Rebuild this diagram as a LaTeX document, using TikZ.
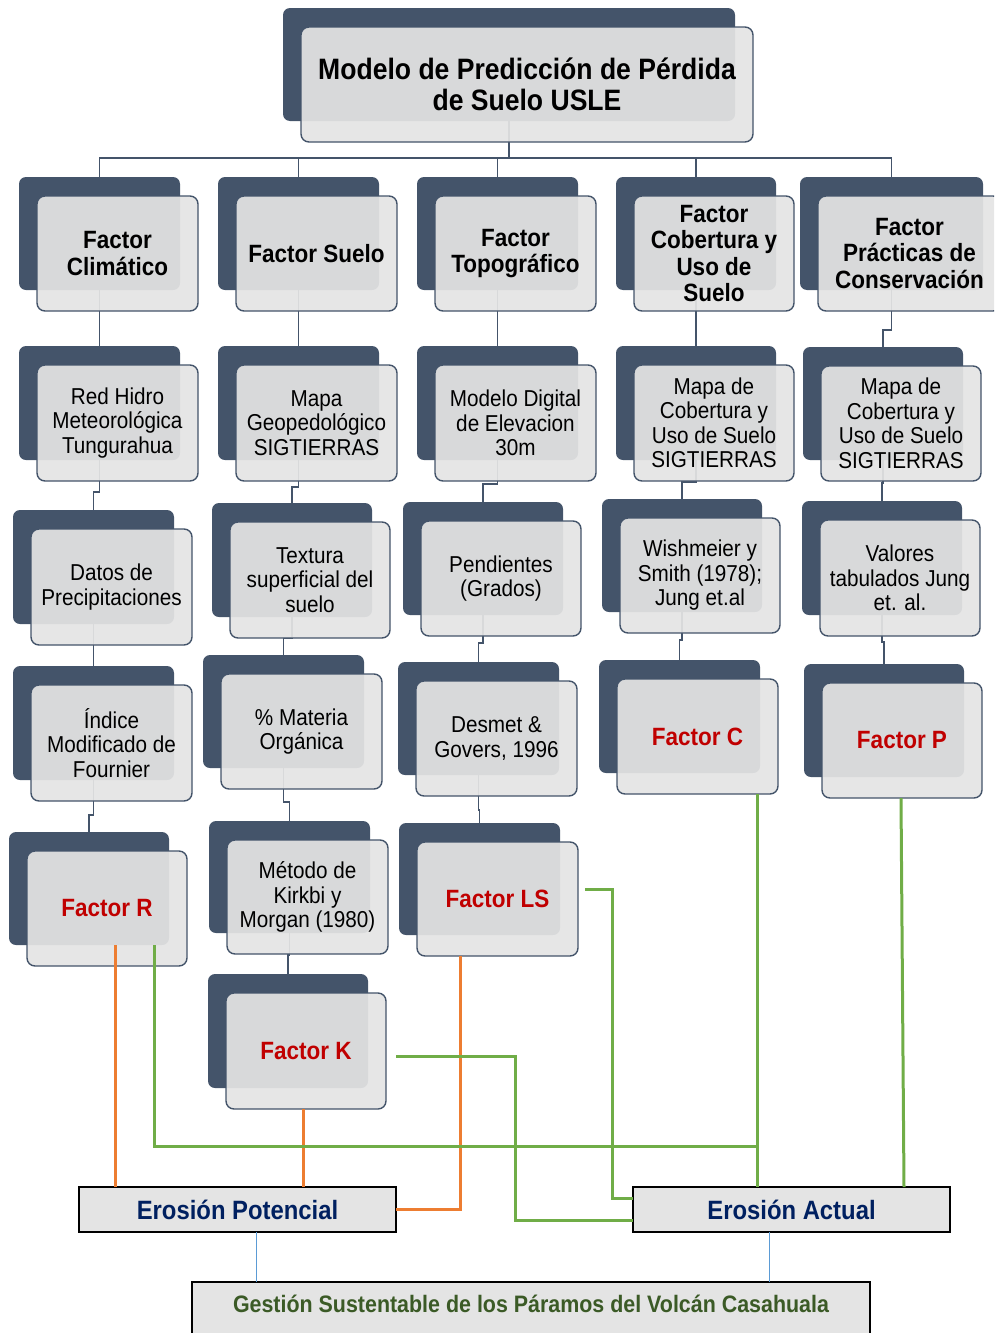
\documentclass[tikz,border=0pt]{standalone}
\usepackage{fontspec}
\setmainfont{Liberation Sans}[FakeStretch=0.9]
\definecolor{dk}{HTML}{44546A}
\definecolor{fr}{HTML}{E4E4E4}
\definecolor{grn}{HTML}{70AD47}
\definecolor{org}{HTML}{ED7D31}
\definecolor{blu}{HTML}{5B9BD5}
\definecolor{nvy}{HTML}{002060}
\definecolor{rdc}{HTML}{C00000}
\definecolor{ggr}{HTML}{3B5A26}
\definecolor{erf}{HTML}{E4E4E4}
\pgfdeclarelayer{bg}
\pgfdeclarelayer{mid}
\pgfsetlayers{bg,mid,main}
\tikzset{
  darkb/.style={fill=dk, draw=none, rounded corners=7pt, inner sep=0pt, outer sep=0pt},
  frontb/.style={fill=fr, fill opacity=0.925, text opacity=1, draw=dk, line width=1.4pt,
    rounded corners=8pt, align=center, inner sep=2pt, outer sep=0pt},
  hd/.style={font=\fontsize{25}{26.5}\selectfont\bfseries},
  bd/.style={font=\fontsize{23}{24.5}\selectfont},
  rd/.style={font=\fontsize{25}{27}\selectfont\bfseries, text=rdc},
  ttl/.style={font=\fontsize{29.5}{30.5}\selectfont\bfseries},
  conl/.style={draw=dk, line width=1.8pt},
  grl/.style={draw=grn, line width=3pt},
  orl/.style={draw=org, line width=3pt},
  bll/.style={draw=blu, line width=1pt},
  erob/.style={fill=erf, draw=black, line width=1.8pt, inner sep=0pt, outer sep=0pt,
    font=\fontsize{26.5}{28}\selectfont\bfseries, text=nvy},
}
% #1 name, #2 x, #3 y, #4 w, #5 h, #6 style, #7 text
\newcommand\ubox[7]{%
  \begin{pgfonlayer}{bg}
    \node[darkb, minimum width=#4pt, minimum height=#5pt, anchor=north west] (#1-d) at (#2,#3) {};
  \end{pgfonlayer}
  \node[frontb, #6, minimum width=#4pt, minimum height={#5pt+2pt}, anchor=north west] (#1) at (#2+18,#3+19) {#7};
}
\newcommand\cn[3]{\draw[conl] (#1-d.south) -- (#1-d.south |- 0,#3) -- (#2-d.north |- 0,#3) -- (#2-d.north);}
\begin{document}
\begin{tikzpicture}[x=1pt, y=-1pt]
\useasboundingbox (0,0) rectangle (994,1333);
\clip (0,0) rectangle (994,1333);
% top
\ubox{T}{283}{8}{452}{113}{ttl}{Modelo de Predicción de Pérdida\\de Suelo USLE}
% row 1
\ubox{A1}{19}{177}{161}{113}{hd}{Factor\\Climático}
\ubox{B1}{218}{177}{161}{113}{hd}{Factor Suelo}
\ubox{C1}{417}{177}{161}{113}{hd}{Factor\\Topográfico}
\ubox{D1}{616}{177}{160}{113}{hd}{Factor\\Cobertura y\\Uso de\\Suelo}
\ubox{E1}{800}{177}{183}{113}{hd}{Factor\\Prácticas de\\Conservación}
% row 2
\ubox{A2}{19}{346}{161}{114}{bd}{Red Hidro\\Meteorológica\\Tungurahua}
\ubox{B2}{218}{346}{161}{114}{bd}{Mapa\\Geopedológico\\SIGTIERRAS}
\ubox{C2}{417}{346}{161}{114}{bd}{Modelo Digital\\de Elevacion\\30m}
\ubox{D2}{616}{346}{160}{114}{bd}{Mapa de\\Cobertura y\\Uso de Suelo\\SIGTIERRAS}
\ubox{E2}{803}{347}{160}{113}{bd}{Mapa de\\Cobertura y\\Uso de Suelo\\SIGTIERRAS}
% row 3
\ubox{A3}{13}{510}{161}{114}{bd}{Datos de\\Precipitaciones}
\ubox{B3}{212}{503}{160}{114}{bd}{Textura\\superficial del\\suelo}
\ubox{C3}{403}{502}{160}{113}{bd}{Pendientes\\(Grados)}
\ubox{D3}{602}{499}{160}{113}{bd}{Wishmeier y\\Smith (1978);\\Jung et.al}
\ubox{E3}{802}{501}{160}{114}{bd}{Valores\\tabulados Jung\\et. al.}
% row 4
\ubox{A4}{13}{666}{161}{114}{bd}{Índice\\Modificado de\\Fournier}
\ubox{B4}{203}{655}{161}{113}{bd}{\% Materia\\Orgánica}
\ubox{C4}{398}{662}{161}{113}{bd}{Desmet \&\\Govers, 1996}
\ubox{D4}{599}{660}{161}{113}{rd}{Factor C}
\ubox{E4}{804}{664}{160}{113}{rd}{Factor P}
% row 5
\ubox{A5}{9}{832}{160}{113}{rd}{Factor R}
\ubox{B5}{209}{821}{161}{112}{bd}{Método de\\Kirkbi y\\Morgan (1980)}
\ubox{C5}{399}{823}{161}{112}{rd}{Factor LS}
% row 6
\ubox{B6}{208}{974}{160}{114}{rd}{Factor K}
% bottom boxes
\node[erob, minimum width=317pt, minimum height=45pt, anchor=north west] (EP) at (79,1187) {Erosión Potencial};
\node[erob, minimum width=317pt, minimum height=45pt, anchor=north west] (EA) at (633,1187) {Erosión Actual};
\node[fill=erf, draw=black, line width=1.8pt, inner xsep=0pt, inner ysep=5pt, outer sep=0pt,
  minimum width=678pt, text height=25pt, text depth=40pt, anchor=north west,
  font=\fontsize{23.8}{25}\selectfont\bfseries, text=ggr] (G) at (192,1282)
  {Gestión Sustentable de los Páramos del Volcán Casahuala};
% gray connectors
\begin{pgfonlayer}{mid}
  \draw[conl] (T-d.south) -- (T-d.south |- 0,158);
  \draw[conl] (A1-d.north) -- (A1-d.north |- 0,158) -- (E1-d.north |- 0,158) -- (E1-d.north);
  \draw[conl] (B1-d.north) -- (B1-d.north |- 0,158);
  \draw[conl] (C1-d.north) -- (C1-d.north |- 0,158);
  \draw[conl] (D1-d.north) -- (D1-d.north |- 0,158);
  \cn{A1}{A2}{328}
  \cn{A2}{A3}{492}
  \cn{A3}{A4}{645}
  \cn{A4}{A5}{815}
  \cn{B1}{B2}{328}
  \cn{B2}{B3}{487}
  \cn{B3}{B4}{638}
  \cn{B4}{B5}{802}
  \cn{B5}{B6}{955}
  \cn{C1}{C2}{328}
  \cn{C2}{C3}{484}
  \cn{C3}{C4}{643}
  \cn{C4}{C5}{810}
  \cn{D1}{D2}{328}
  \cn{D2}{D3}{482}
  \cn{D3}{D4}{640}
  \cn{E1}{E2}{330}
  \cn{E2}{E3}{483}
  \cn{E3}{E4}{642}
\end{pgfonlayer}
% coloured connectors
\coordinate (gJ) at (757,1146);
\coordinate (kS) at (396,1056);
\coordinate (kT) at (515,1220);
\coordinate (lS) at (585,889);
\coordinate (lT) at (612,1198);
\draw[orl] (A5-d.south -| 115,0) -- (EP.north -| 115,0);
\draw[orl] (B6.south -| 303,0) -- (EP.north -| 303,0);
\draw[orl] (C5.south -| 460,0) |- (EP.east);
\draw[grl] (A5-d.south -| 154,0) |- (gJ);
\draw[grl] (D4.south -| 757,0) -- (EA.north -| 757,0);
\draw[grl] (E4.south -| 901,0) -- (EA.north -| 904,0);
\draw[grl] (kS) -| (kT) -- (EA.west |- kT);
\draw[grl] (lS) -| (lT) -- (EA.west |- lT);
\draw[bll] (EP.south -| 256,0) -- (G.north -| 256,0);
\draw[bll] (EA.south -| 769,0) -- (G.north -| 769,0);
\end{tikzpicture}
\end{document}
